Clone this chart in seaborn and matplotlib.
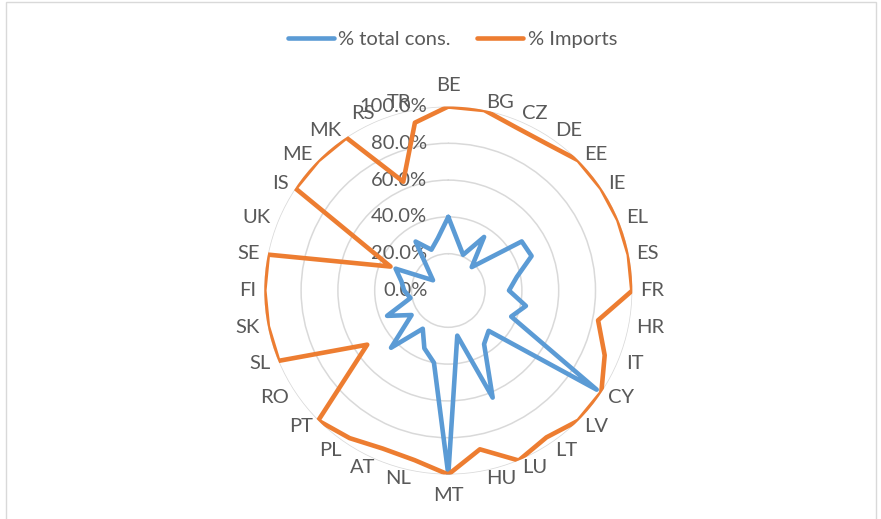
import numpy as np
import pandas as pd
import matplotlib
matplotlib.use("Agg")
import matplotlib.pyplot as plt
import matplotlib.patches as mpatches
from matplotlib.transforms import offset_copy
import seaborn as sns

categories = ["BE", "BG", "CZ", "DE", "EE", "IE", "EL", "ES", "FR", "HR", "IT",
              "CY", "LV", "LT", "LU", "HU", "MT", "NL", "AT", "PL", "PT", "RO",
              "SL", "SK", "FI", "SE", "UK", "IS", "ME", "MK", "RS", "TR"]
total_cons = [0.40, 0.27, 0.21, 0.35, 0.18, 0.48, 0.49, 0.38, 0.33, 0.43, 0.37,
              0.97, 0.31, 0.35, 0.63, 0.25, 1.00, 0.40, 0.34, 0.25, 0.44, 0.24,
              0.36, 0.21, 0.24, 0.26, 0.31, 0.10, 0.15, 0.32, 0.24, 0.29]
imports = [1.00, 1.00, 0.96, 0.96, 1.00, 1.00, 1.00, 1.00, 1.00, 0.83, 0.92,
           1.00, 1.00, 0.96, 1.00, 0.88, 1.00, 0.94, 0.93, 0.965, 1.00, 0.53,
           1.00, 1.00, 1.00, 1.00, 0.34, 1.00, 1.00, 1.00, 0.64, 0.93]
series_names = ["% total cons.", "% Imports"]
r_ticks = [0.0, 0.2, 0.4, 0.6, 0.8, 1.0]

sns.set_theme(style="white")
plt.rcParams['font.family'] = ['Lato', 'DejaVu Sans']
TXT = "#595959"
FS = 14.5

n = len(categories)
theta = np.linspace(0, 2 * np.pi, n, endpoint=False)
theta_c = np.append(theta, 2 * np.pi)

rows = []
for name, vals in zip(series_names, [total_cons, imports]):
    vc = list(vals) + [vals[0]]
    for t, v in zip(theta_c, vc):
        rows.append({"theta": t, "value": v, "series": name})
df = pd.DataFrame(rows)

W, H = 881, 519
fig = plt.figure(figsize=(W / 100, H / 100), dpi=100)
cx, cy, R = 448.3, 290.5, 184
ax = fig.add_axes([(cx - R) / W, (H - cy - R) / H, 2 * R / W, 2 * R / H],
                  projection="polar")
ax.set_theta_zero_location("N")
ax.set_theta_direction(-1)

sns.lineplot(data=df, x="theta", y="value", hue="series", sort=False,
             estimator=None, palette=["#5B9BD5", "#ED7D31"], linewidth=3.3,
             ax=ax, legend=True, zorder=3)
for ln in ax.lines:
    ln.set_solid_joinstyle("round")
    ln.set_solid_capstyle("round")

ax.set_ylim(0, 1)
ax.set_yticks([0.2, 0.4, 0.6, 0.8, 1.0])
ax.set_yticklabels([])
ax.set_xticks([])
ax.set_xlabel("")
ax.set_ylabel("")
ax.yaxis.grid(True, color="#d9d9d9", linewidth=1.1)
ax.xaxis.grid(False)
ax.spines["polar"].set_visible(False)
ax.set_facecolor("none")

# radial value labels
tr = offset_copy(ax.transData, fig=fig, x=-21, y=0, units="dots")
for r in r_ticks:
    ax.text(0, r, f"{r * 100:.1f}%", transform=tr, ha="right", va="center",
            fontsize=FS, color=TXT, zorder=2, clip_on=False)

# category labels: side-anchored like the spreadsheet renderer
for t, lab in zip(theta, categories):
    s = np.sin(t)
    if abs(s) < 1e-6:
        ax.text(t, 205 / R, lab, ha="center", va="center", fontsize=FS,
                color=TXT, clip_on=False)
    else:
        ax.text(t, 192 / R, lab, ha="left" if s > 0 else "right",
                va="center", fontsize=FS, color=TXT, clip_on=False)

handles, labels = ax.get_legend_handles_labels()
ax.get_legend().remove()
fig.legend(handles, labels, loc="center", bbox_to_anchor=(452.5 / W, 1 - 39 / H),
           ncol=2, frameon=False, fontsize=FS, handlelength=2.3,
           handletextpad=0.2, columnspacing=1.3, labelcolor=TXT)

fig.patches.append(mpatches.Rectangle((5.5 / W, -0.05), (876 - 5.5) / W, 1.05 - 1.5 / H,
                                      transform=fig.transFigure, fill=False,
                                      edgecolor="#d9d9d9", linewidth=1))

fig.savefig("out.png", dpi=100, facecolor="white")
